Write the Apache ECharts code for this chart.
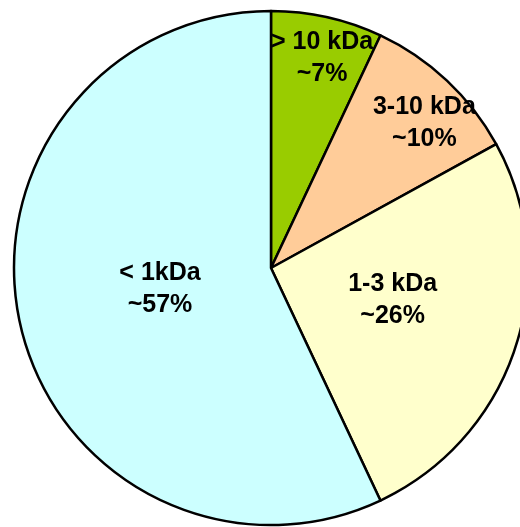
<!DOCTYPE html>
<html>
<head>
<meta charset="utf-8">
<script src="https://cdn.jsdelivr.net/npm/echarts@6/dist/echarts.min.js"></script>
<style>
  html, body { margin: 0; padding: 0; background: #fff; }
  #chart { width: 520px; height: 527px; }
</style>
</head>
<body>
<div id="chart"></div>
<script>
// Molecular weight fractions, clockwise from 12 o'clock
const categories = ['> 10 kDa', '3-10 kDa', '1-3 kDa', '< 1kDa'];
const shares = [7, 10, 26, 57];
const sliceColors = ['#99CC00', '#FFCC99', '#FFFFCC', '#CCFFFF'];

// Label anchor for each slice: [angle clockwise from top (deg), fraction of radius]
const labelPolar = [[13.7, 0.84], [46.7, 0.82], [105, 0.49], [259, 0.44]];

const CX = 271, CY = 268, R = 257;

const chart = echarts.init(document.getElementById('chart'), null, { renderer: 'canvas' });

chart.setOption({
  animation: false,
  backgroundColor: '#ffffff',
  series: [{
    type: 'pie',
    center: [CX, CY],
    radius: [0, R],
    startAngle: 90,
    clockwise: true,
    silent: true,
    avoidLabelOverlap: false,
    itemStyle: { borderColor: '#000000', borderWidth: 2.5 },
    label: {
      show: true,
      position: 'inside',
      align: 'center',
      verticalAlign: 'middle',
      fontFamily: '"Liberation Sans", Arial, sans-serif',
      fontWeight: 'bold',
      fontSize: 25,
      lineHeight: 32,
      color: '#000000',
      formatter: p => p.name + '\n~' + p.value + '%'
    },
    labelLine: { show: false },
    labelLayout: function (params) {
      const [deg, f] = labelPolar[params.dataIndex];
      const a = deg * Math.PI / 180;
      return {
        x: CX + Math.sin(a) * R * f,
        y: CY - Math.cos(a) * R * f,
        align: 'center',
        verticalAlign: 'middle'
      };
    },
    data: categories.map((name, i) => ({
      name: name,
      value: shares[i],
      itemStyle: { color: sliceColors[i] }
    }))
  }]
});
</script>
</body>
</html>
